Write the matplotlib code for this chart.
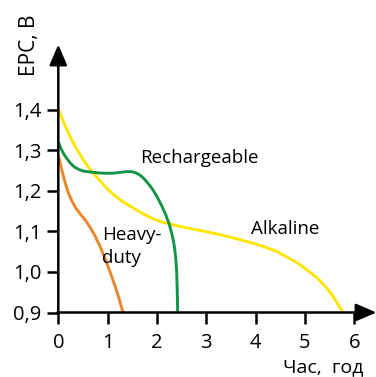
import matplotlib
matplotlib.use('Agg')
import matplotlib.pyplot as plt

plt.rcParams['font.family'] = ['Open Sans', 'DejaVu Sans']

# Alkaline curve (hours, volts)
alk_t = [0, 0.05, 0.10, 0.16, 0.24, 0.36, 0.50, 0.62, 0.71, 0.85, 0.98, 1.15,
         1.32, 1.50, 1.70, 1.90, 2.10, 2.30, 2.50, 2.70, 3.00, 3.30, 3.60,
         3.90, 4.15, 4.40, 4.63, 4.85, 5.05, 5.25, 5.40, 5.54, 5.66, 5.77]
alk_v = [1.402, 1.386, 1.371, 1.354, 1.333, 1.305, 1.277, 1.257, 1.243, 1.224,
         1.206, 1.187, 1.172, 1.159, 1.144, 1.132, 1.123, 1.117, 1.111, 1.106,
         1.099, 1.091, 1.082, 1.072, 1.063, 1.052, 1.037, 1.022, 1.004, 0.985,
         0.966, 0.945, 0.922, 0.900]

# Rechargeable curve
rech_t = [0, 0.04, 0.08, 0.13, 0.18, 0.25, 0.33, 0.42, 0.52, 0.65, 0.80, 0.95,
          1.10, 1.25, 1.38, 1.48, 1.57, 1.66, 1.75, 1.84, 1.93, 2.02, 2.10,
          2.18, 2.25, 2.31, 2.35, 2.38, 2.40, 2.41, 2.42]
rech_v = [1.320, 1.308, 1.297, 1.287, 1.278, 1.267, 1.258, 1.252, 1.248, 1.246,
          1.244, 1.243, 1.243, 1.245, 1.247, 1.247, 1.244, 1.238, 1.228, 1.215,
          1.200, 1.181, 1.162, 1.140, 1.117, 1.090, 1.065, 1.035, 1.000, 0.960,
          0.900]

# Heavy-duty curve
hd_t = [0, 0.03, 0.06, 0.10, 0.15, 0.20, 0.27, 0.35, 0.45, 0.55, 0.65, 0.75,
        0.85, 0.95, 1.05, 1.15, 1.23, 1.31]
hd_v = [1.288, 1.272, 1.257, 1.237, 1.215, 1.196, 1.176, 1.158, 1.142, 1.127,
        1.109, 1.087, 1.062, 1.032, 1.000, 0.965, 0.935, 0.900]

xticks = [0, 1, 2, 3, 4, 5, 6]
yticks = [0.9, 1.0, 1.1, 1.2, 1.3, 1.4]
ytick_labels = ['0,9', '1,0', '1,1', '1,2', '1,3', '1,4']

W, H = 376, 377
fig = plt.figure(figsize=(W / 100, H / 100), dpi=100)

x0, x1 = 0, 6.45
y0, y1 = 0.9, 1.56
px_x, px_y = 49.33, 406.0  # pixels per unit
ax = fig.add_axes([58.3 / W, (H - 312.5) / H,
                   (x1 - x0) * px_x / W, (y1 - y0) * px_y / H])
ax.set_xlim(x0, x1)
ax.set_ylim(y0, y1)

line_kw = dict(lw=2.1, solid_capstyle='butt', solid_joinstyle='round', clip_on=False)
ax.plot(alk_t, alk_v, color='#FFE600', **line_kw)
ax.plot(rech_t, rech_v, color='#149447', **line_kw)
ax.plot(hd_t, hd_v, color='#E8882A', **line_kw)

for s in ax.spines.values():
    s.set_visible(False)

# axes with arrows
arrow = dict(arrowstyle='-|>,head_length=0.7,head_width=0.3', lw=1.8,
             color='black', shrinkA=0, shrinkB=0, mutation_scale=18)
ax.annotate('', xy=(x1, y0), xytext=(-0.02, y0), arrowprops=arrow,
            annotation_clip=False)
ax.annotate('', xy=(0, y1), xytext=(0, y0 - 0.003), arrowprops=arrow,
            annotation_clip=False)

ax.set_xticks(xticks)
ax.set_yticks(yticks)
ax.set_yticklabels(ytick_labels)
ax.tick_params(axis='both', direction='out', length=8, width=1.8,
               labelsize=14.5, colors='black')
ax.tick_params(axis='x', pad=7)
ax.tick_params(axis='y', pad=4)

def fpos(x, y):
    return x / W, 1 - y / H

fs = 13.5
fig.text(*fpos(30, 76), 'ЕРС, В', rotation=90, ha='center', va='bottom', fontsize=15)
fig.text(*fpos(323, 372), 'Час,  год', ha='center', va='baseline', fontsize=14)
fig.text(*fpos(140, 163.3), 'Rechargeable', ha='left', va='baseline', fontsize=fs)
fig.text(*fpos(251, 234), 'Alkaline', ha='left', va='baseline', fontsize=fs)
fig.text(*fpos(102, 240), 'Heavy-', ha='left', va='baseline', fontsize=fs)
fig.text(*fpos(102, 262.7), 'duty', ha='left', va='baseline', fontsize=fs)

fig.savefig('out.png', dpi=100)
